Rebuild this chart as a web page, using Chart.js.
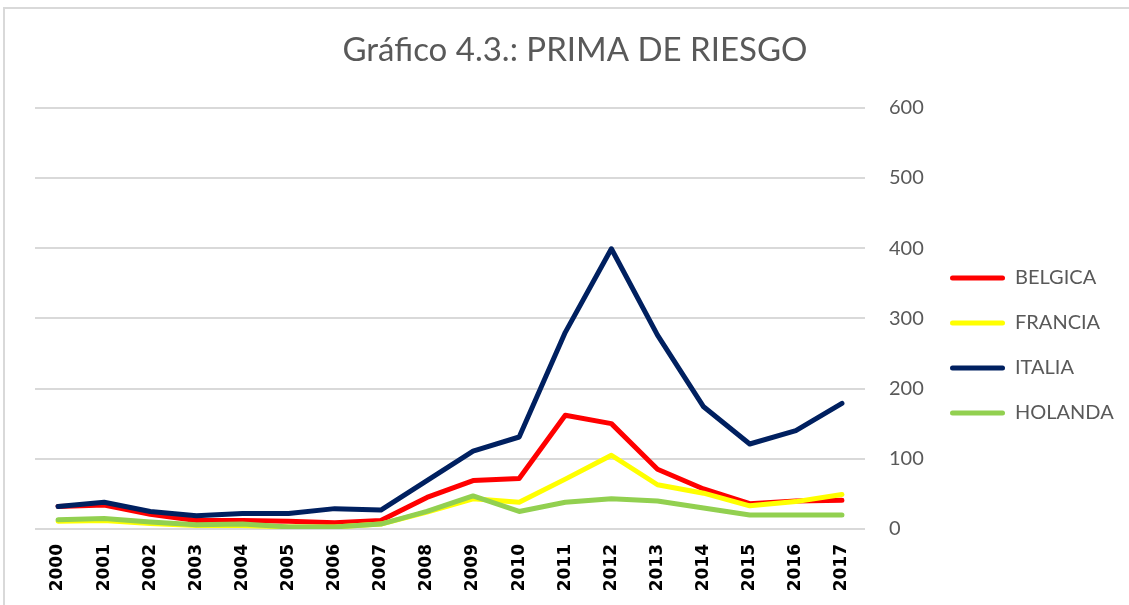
<!DOCTYPE html>
<html lang="es">
<head>
    <meta charset="UTF-8">
    <title>Prima de riesgo</title>
    <script src="https://cdn.jsdelivr.net/npm/chart.js@4.4.1/dist/chart.umd.min.js"></script>
    <style>
        html, body { margin: 0; padding: 0; background: #ffffff; }
        .frame {
            position: absolute; left: 3px; top: 7px; width: 1200px; height: 700px;
            border-left: 2px solid #d9d9d9; border-top: 2px solid #d9d9d9;
        }
        #chart { position: absolute; left: 0; top: 0; }
    </style>
</head>
<body>
    <div class="frame"></div>
    <canvas id="chart" width="1129" height="605"></canvas>
    <script>
        // Datos (puntos basicos)
        const years = ['2000', '2001', '2002', '2003', '2004', '2005', '2006', '2007', '2008',
                       '2009', '2010', '2011', '2012', '2013', '2014', '2015', '2016', '2017'];
        const belgica = [32, 34, 21, 12, 12, 11, 9, 12, 45, 69, 72, 162, 150, 85, 57, 36, 40, 41];
        const francia = [11, 12, 8, 5, 5, 3, 3, 7, 24, 43, 38, 71, 105, 63, 51, 33, 39, 49];
        const italia  = [32, 38, 25, 19, 22, 22, 29, 27, 69, 111, 131, 280, 399, 276, 174, 121, 140, 179];
        const holanda = [13, 15, 10, 6, 7, 3, 3, 7, 25, 47, 25, 38, 43, 40, 30, 20, 20, 20];
        const yTicks = [0, 100, 200, 300, 400, 500, 600];

        const grey = '#595959';

        function serie(label, data, color, order) {
            return {
                label: label,
                data: data,
                borderColor: color,
                backgroundColor: color,
                borderWidth: 5,
                pointRadius: 0,
                tension: 0,
                borderJoinStyle: 'round',
                borderCapStyle: 'round',
                order: order
            };
        }

        const ctx = document.getElementById('chart').getContext('2d');
        new Chart(ctx, {
            type: 'line',
            data: {
                labels: years,
                datasets: [
                    serie('BELGICA', belgica, '#ff0000', 3),
                    serie('FRANCIA', francia, '#ffff00', 2),
                    serie('ITALIA', italia, '#002060', 1),
                    serie('HOLANDA', holanda, '#92d050', 0)
                ]
            },
            options: {
                responsive: false,
                animation: false,
                layout: { padding: { left: 35, right: 14, top: 12, bottom: 0 } },
                plugins: {
                    tooltip: { enabled: false },
                    title: {
                        display: true,
                        text: 'Gráfico 4.3.: PRIMA DE RIESGO',
                        color: grey,
                        font: { family: 'Lato', size: 33, weight: 'normal' },
                        padding: { top: 19, bottom: 37 }
                    },
                    legend: {
                        position: 'right',
                        maxWidth: 190,
                        // titulo vacio: solo desplaza las entradas hacia abajo
                        title: {
                            display: true,
                            text: ' ',
                            font: { family: 'Lato', size: 20 },
                            padding: { top: 25, bottom: 25 }
                        },
                        labels: {
                            color: grey,
                            font: { family: 'Lato', size: 20 },
                            boxWidth: 55,
                            boxHeight: 5,
                            useBorderRadius: true,
                            borderRadius: 2.5,
                            padding: 25,
                            generateLabels: (chart) =>
                                Chart.defaults.plugins.legend.labels.generateLabels(chart)
                                    .map(item => ({ ...item, lineWidth: 0 })),
                            sort: (a, b) => a.datasetIndex - b.datasetIndex
                        }
                    }
                },
                scales: {
                    x: {
                        offset: true,
                        afterFit: (axis) => { axis.height = 76; },
                        grid: { display: false, drawTicks: false },
                        border: { display: false },
                        ticks: {
                            color: '#000000',
                            font: { family: "'DejaVu Sans', sans-serif", size: 17, weight: 'bold' },
                            minRotation: 90,
                            maxRotation: 90,
                            padding: 15,
                            autoSkip: false
                        }
                    },
                    y: {
                        position: 'right',
                        min: 0,
                        max: 600,
                        afterBuildTicks: (axis) => { axis.ticks = yTicks.map(v => ({ value: v })); },
                        afterFit: (axis) => { axis.width = 60; },
                        grid: { color: '#d9d9d9', lineWidth: 2, drawTicks: false },
                        border: { display: false },
                        ticks: {
                            color: grey,
                            font: { family: 'Lato', size: 20 },
                            padding: 24
                        }
                    }
                }
            }
        });
    </script>
</body>
</html>
